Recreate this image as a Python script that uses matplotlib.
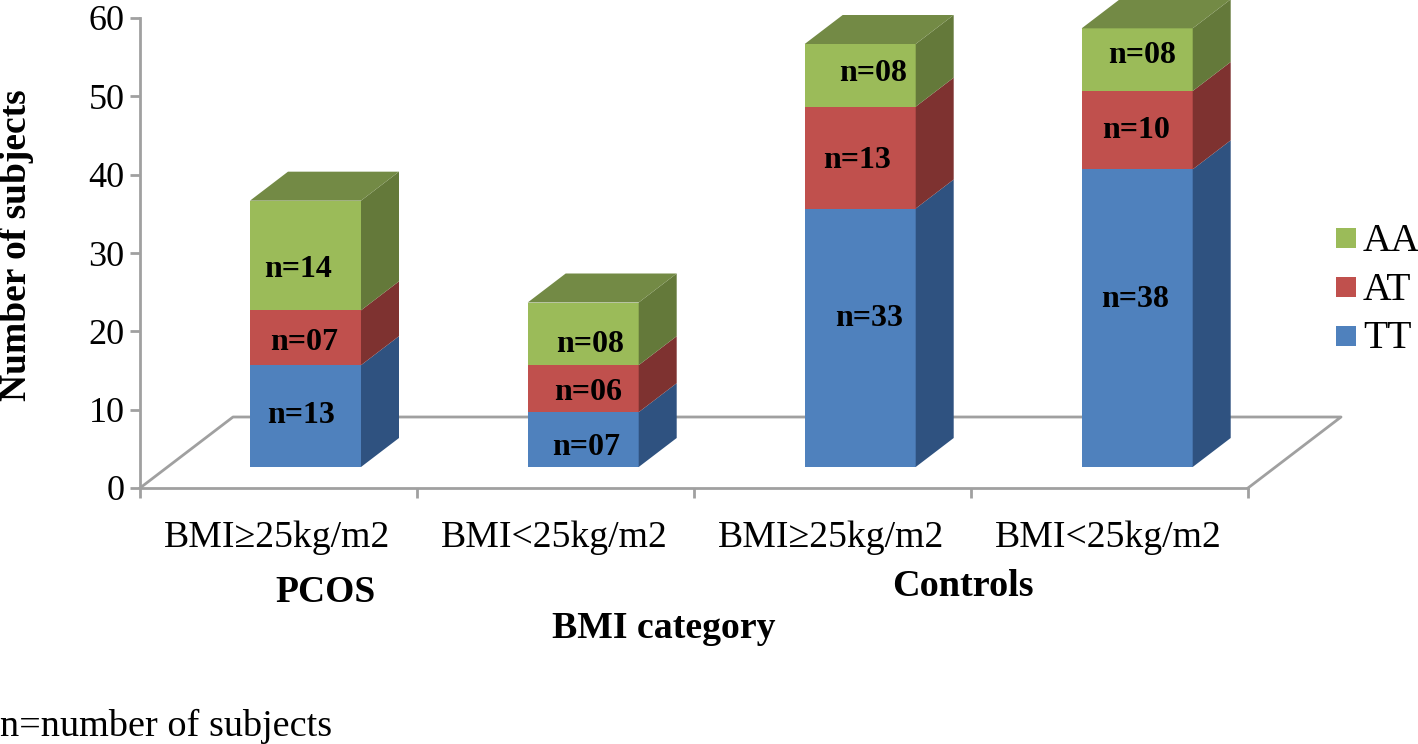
import numpy as np
import matplotlib
matplotlib.use('Agg')
from matplotlib import pyplot as plt
from matplotlib.patches import Polygon, Rectangle

W, H = 1418, 744

groups = ['BMI≥25kg/m2', 'BMI<25kg/m2', 'BMI≥25kg/m2', 'BMI<25kg/m2']
tt_heights = [13, 7, 33, 38]
at_heights = [7, 6, 13, 10]
aa_heights = [14, 8, 8, 8]
tt_labels = ['n=13', 'n=07', 'n=33', 'n=38']
at_labels = ['n=07', 'n=06', 'n=13', 'n=10']
aa_labels = ['n=14', 'n=08', 'n=08', 'n=08']
series = ['TT', 'AT', 'AA']
y_ticks = [0, 10, 20, 30, 40, 50, 60]

# the labels were nudged by hand in the original, offsets in pixels (right, up)
label_nudge = [
    [(-4, 1), (-1, -5), (-7, -14)],
    [(3, -8), (5, -4), (7, -11)],
    [(9, 19), (-3, -3), (13, 2)],
    [(-2, 19), (-1, 0), (5, 4)],
]

front = ['#4f81bd', '#c0504d', '#9bbb59']
side = ['#2f5280', '#7e3230', '#64793a']
top_color = '#738a45'
grey = '#a0a0a0'

plt.rcParams['font.family'] = ['Liberation Serif', 'DejaVu Serif']

fig = plt.figure(figsize=(W / 100, H / 100), dpi=100)
# axes box is the front floor edge up to the 60 tick
ax = fig.add_axes([140 / W, 1 - 488 / H, (1248 - 140) / W, (488 - 18) / H])
ax.set_xlim(0, 4)
ax.set_ylim(0, 60)
ax.patch.set_visible(False)
for s in ['top', 'right']:
    ax.spines[s].set_visible(False)
for s in ['left', 'bottom']:
    ax.spines[s].set_color(grey)
    ax.spines[s].set_linewidth(2)

ax.set_xticks(range(5))
ax.set_xticklabels([])
ax.tick_params(axis='x', length=7, width=2, color=grey, direction='out')
ax.set_yticks(y_ticks)
ax.tick_params(axis='y', length=7, width=2, color=grey, labelsize=26, pad=4)

# fake 3d offsets in data units
px = 4 / (1248 - 140)
py = 60 / (488 - 18)
floor_dx, floor_dy = 93 * px, 71 * py
bar_w = 111 * px
bar_dx, bar_dy = 38 * px, 29 * py
base = 21 * py
x0 = (250 - 140) * px

ax.plot([0, floor_dx, 4 + floor_dx, 4], [0, floor_dy, floor_dy, 0], color=grey, lw=2, clip_on=False)

for i in range(4):
    left = x0 + i + 0.7 * px * (i > 0)
    bottom = base
    values = [tt_heights[i], at_heights[i], aa_heights[i]]
    texts = [tt_labels[i], at_labels[i], aa_labels[i]]
    for j, v in enumerate(values):
        ax.add_patch(Rectangle((left, bottom), bar_w, v, fc=front[j], ec='none', zorder=3))
        ax.add_patch(Polygon([(left + bar_w, bottom), (left + bar_w + bar_dx, bottom + bar_dy),
                              (left + bar_w + bar_dx, bottom + v + bar_dy), (left + bar_w, bottom + v)],
                             fc=side[j], ec='none', zorder=3, clip_on=False))
        nx, ny = label_nudge[i][j]
        ax.annotate(texts[j], (left + bar_w / 2, bottom + v / 2), xytext=(nx * 0.72, ny * 0.72),
                    textcoords='offset points', ha='center', va='center',
                    fontsize=23, fontweight='bold', color='black', zorder=5)
        bottom += v
    ax.add_patch(Polygon([(left, bottom), (left + bar_dx, bottom + bar_dy),
                          (left + bar_w + bar_dx, bottom + bar_dy), (left + bar_w, bottom)],
                         fc=top_color, ec='none', zorder=3, clip_on=False))

for i, g in enumerate(groups):
    fig.text((277.5 + 277 * i) / W, 1 - 538 / H, g, ha='center', va='center', fontsize=27.2)

fig.text(325 / W, 1 - 592 / H, 'PCOS', ha='center', va='center', fontsize=27, fontweight='bold')
fig.text(963 / W, 1 - 586 / H, 'Controls', ha='center', va='center', fontsize=27.5, fontweight='bold')
fig.text(664 / W, 1 - 628 / H, 'BMI category', ha='center', va='center', fontsize=27.2, fontweight='bold')
fig.text(17 / W, 1 - 245 / H, 'Number of subjects', ha='center', va='center', rotation=90,
         fontsize=27, fontweight='bold')
fig.text(0, 1 - 726 / H, 'n=number of subjects', ha='left', va='center', fontsize=27.5)

# legend, AA on top
for j, y in zip([2, 1, 0], [238, 287, 336]):
    fig.patches.append(Rectangle((1336 / W, 1 - (y + 10) / H), 20 / W, 20 / H, fc=front[j], ec='none',
                                 transform=fig.transFigure))
    fig.text(1363 / W, 1 - (y + 3) / H, series[j], ha='left', va='center', fontsize=28.5)

fig.savefig('out.png', dpi=100)
